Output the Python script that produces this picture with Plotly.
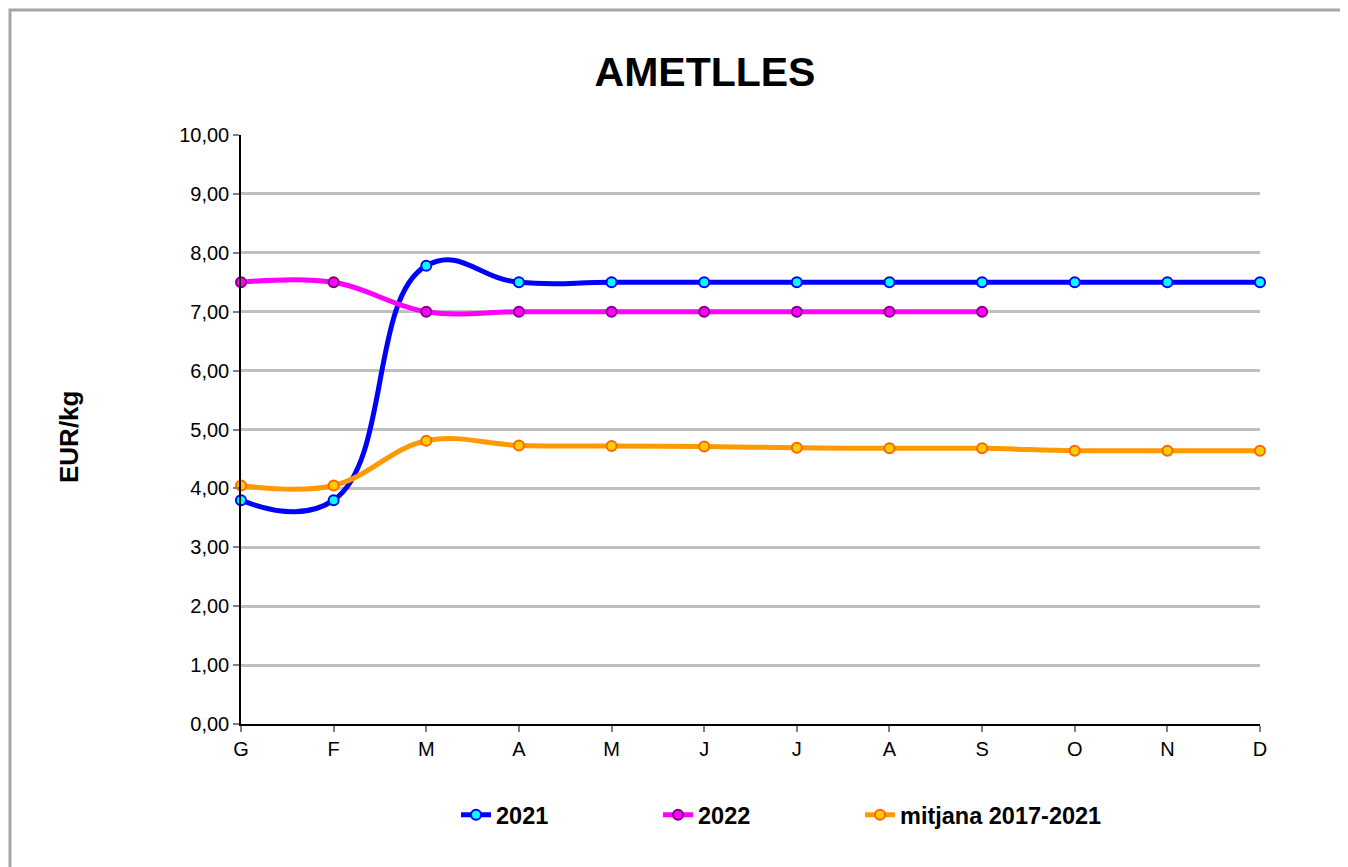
import plotly.graph_objects as go

months = ["G", "F", "M", "A", "M", "J", "J", "A", "S", "O", "N", "D"]
y2021 = [3.80, 3.80, 7.78, 7.50, 7.50, 7.50, 7.50, 7.50, 7.50, 7.50, 7.50, 7.50]
y2022 = [7.50, 7.50, 7.00, 7.00, 7.00, 7.00, 7.00, 7.00, 7.00]
ymitjana = [4.05, 4.05, 4.81, 4.73, 4.72, 4.71, 4.69, 4.68, 4.68, 4.64, 4.64, 4.64]
yticks = [0, 1, 2, 3, 4, 5, 6, 7, 8, 9, 10]
ytick_labels = ["0,00", "1,00", "2,00", "3,00", "4,00", "5,00", "6,00", "7,00", "8,00", "9,00", "10,00"]

FONT = "Liberation Sans, Arial, sans-serif"
OFF = 8  # page body margin

fig = go.Figure()

def add(name, ys, line_color, fill, border, legend, smoothing):
    fig.add_trace(go.Scatter(
        x=list(range(len(ys))), y=ys, name=name, mode="lines+markers",
        line=dict(color=line_color, width=5, shape="spline", smoothing=smoothing),
        marker=dict(size=10, color=fill, line=dict(color=border, width=2)),
        cliponaxis=False, legend=legend,
    ))

add("2021", y2021, "#0000FF", "#00FFFF", "#0000FF", "legend", 1.3)
add("2022", y2022, "#FF00FF", "#FF00FF", "#800080", "legend2", 1.1)
add("mitjana 2017-2021", ymitjana, "#FF9900", "#FFCC00", "#FF6600", "legend3", 1.1)

W, H = 1348 - OFF, 867 - OFF
L, R, T, B = 241 - OFF, 1260 - OFF, 135 - OFF, 724 - OFF
pw, ph = R - L, B - T

def px(x):
    return (x - OFF - L) / pw

def py(y):
    return (B - (y - OFF)) / ph

fig.add_shape(type="rect", xref="paper", yref="paper",
              x0=px(10), x1=px(1360), y0=py(880), y1=py(10),
              line=dict(color="#A6A6A6", width=3), layer="below")

def leg(xpix):
    return dict(orientation="h", x=px(xpix), xanchor="left", y=py(815), yanchor="middle",
                font=dict(size=23.5, family=FONT, color="black", weight="bold"),
                itemwidth=30, bgcolor="rgba(0,0,0,0)")

fig.update_layout(
    width=W, height=H,
    margin=dict(l=L, r=W - R, t=T, b=H - B, pad=0),
    paper_bgcolor="white", plot_bgcolor="white",
    font=dict(family=FONT, color="black", size=20),
    title=dict(text="<b>AMETLLES</b>", xref="paper", x=px(705), xanchor="center",
               yref="container", y=1 - (72 - OFF) / H, yanchor="middle",
               font=dict(size=41, family=FONT, color="black")),
    showlegend=True,
    legend=leg(456),
    legend2=leg(658),
    legend3=leg(860),
    xaxis=dict(range=[0, 11], tickvals=list(range(12)), ticktext=months,
               showgrid=False, zeroline=False, showline=True, linecolor="black", linewidth=1.5,
               ticks="outside", ticklen=6, tickcolor="#808080", tickwidth=1.5,
               tickfont=dict(size=20, family=FONT), fixedrange=True),
    yaxis=dict(range=[0, 10], tickvals=yticks, ticktext=ytick_labels,
               showgrid=True, gridcolor="#C0C0C0", gridwidth=2.5,
               zeroline=False, showline=True, linecolor="black", linewidth=1.5,
               ticks="outside", ticklen=6, tickcolor="#808080", tickwidth=1.5,
               tickfont=dict(size=20, family=FONT), fixedrange=True),
)

fig.add_annotation(text="<b>EUR/kg</b>", xref="paper", yref="paper", x=px(52), y=py(437),
                   textangle=-90, showarrow=False, font=dict(size=26, family=FONT, color="black"))

fig.write_html("out.html")
